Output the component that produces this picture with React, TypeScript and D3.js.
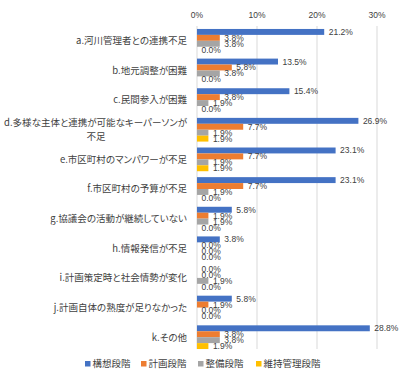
import React from "react";
import * as d3 from "d3";

const categories: string[][] = [
  ["a.河川管理者との連携不足"],
  ["b.地元調整が困難"],
  ["c.民間参入が困難"],
  ["d.多様な主体と連携が可能なキーパーソンが", "不足"],
  ["e.市区町村のマンパワーが不足"],
  ["f.市区町村の予算が不足"],
  ["g.協議会の活動が継続していない"],
  ["h.情報発信が不足"],
  ["i.計画策定時と社会情勢が変化"],
  ["j.計画自体の熟度が足りなかった"],
  ["k.その他"],
];
const seriesNames = ["構想段階", "計画段階", "整備段階", "維持管理段階"];
const seriesColors = ["#4472C4", "#ED7D31", "#A5A5A5", "#FFC000"];
const kousou = [21.2, 13.5, 15.4, 26.9, 23.1, 23.1, 5.8, 3.8, 0.0, 5.8, 28.8];
const keikaku = [3.8, 5.8, 3.8, 7.7, 7.7, 7.7, 1.9, 0.0, 0.0, 1.9, 3.8];
const seibi = [3.8, 3.8, 1.9, 1.9, 1.9, 1.9, 1.9, 0.0, 1.9, 0.0, 3.8];
const iji = [0.0, 0.0, 0.0, 1.9, 1.9, 0.0, 0.0, 0.0, 0.0, 0.0, 1.9];
const xTicks = [0, 10, 20, 30];

const series = [kousou, keikaku, seibi, iji];

export default function App() {
  const W = 409;
  const H = 376;
  const x = d3.scaleLinear().domain([0, 30]).range([197, 377]);
  const y = d3
    .scaleBand<number>()
    .domain(d3.range(categories.length))
    .range([26, 352])
    .paddingInner(0.2)
    .paddingOuter(0.1);
  const ys = d3
    .scaleBand<number>()
    .domain(d3.range(series.length))
    .range([0, y.bandwidth()]);
  const jp = "'Noto Sans CJK JP', 'Noto Sans', sans-serif";
  const num = "'Liberation Sans', Arial, sans-serif";

  const legendX = [85, 141, 198, 256];

  return (
    <svg
      width={W}
      height={H}
      style={{ position: "absolute", left: 0, top: 0, background: "#fff" }}
    >
      {xTicks.map((t) => (
        <g key={t}>
          <line
            x1={x(t)}
            x2={x(t)}
            y1={26}
            y2={349}
            stroke="#D9D9D9"
            strokeWidth={1}
          />
          <text
            x={x(t)}
            y={18}
            textAnchor="middle"
            fontFamily={num}
            fontSize={8.5}
            fill="#404040"
          >
            {t}%
          </text>
        </g>
      ))}
      {categories.map((lines, i) => {
        const cy = (y(i) as number) + y.bandwidth() / 2;
        const lh = 14;
        const w0 = 0;
        return (
          <text
            key={i}
            fontFamily={jp}
            fontSize={9.5}
            fill="#404040"
            style={{ fontFeatureSettings: "'palt'" }}
          >
            {lines.length === 1 ? (
              <tspan x={187} y={cy} dy="0.35em" textAnchor="end">
                {lines[0]}
              </tspan>
            ) : (
              lines.map((l, k) => (
                <tspan
                  key={k}
                  x={k === 0 ? 187 : 96}
                  y={cy + (k - (lines.length - 1) / 2) * lh + w0}
                  dy="0.35em"
                  textAnchor={k === 0 ? "end" : "middle"}
                >
                  {l}
                </tspan>
              ))
            )}
          </text>
        );
      })}
      {series.map((vals, s) =>
        vals.map((v, i) => {
          const by = (y(i) as number) + (ys(s) as number);
          return (
            <g key={`${s}-${i}`}>
              {v > 0 && (
                <rect
                  x={x(0)}
                  y={by}
                  width={x(v) - x(0)}
                  height={ys.bandwidth()}
                  fill={seriesColors[s]}
                />
              )}
              <text
                x={x(v) + 4.5}
                y={by + ys.bandwidth() / 2}
                dy="0.35em"
                fontFamily={num}
                fontSize={8.5}
                fill="#404040"
              >
                {v.toFixed(1)}%
              </text>
            </g>
          );
        })
      )}
      {seriesNames.map((n, s) => (
        <g key={n}>
          <rect
            x={legendX[s]}
            y={361}
            width={5.5}
            height={5.5}
            fill={seriesColors[s]}
          />
          <text
            x={legendX[s] + 7.5}
            y={364}
            dy="0.35em"
            fontFamily={jp}
            fontSize={9.5}
            fill="#404040"
          >
            {n}
          </text>
        </g>
      ))}
    </svg>
  );
}
